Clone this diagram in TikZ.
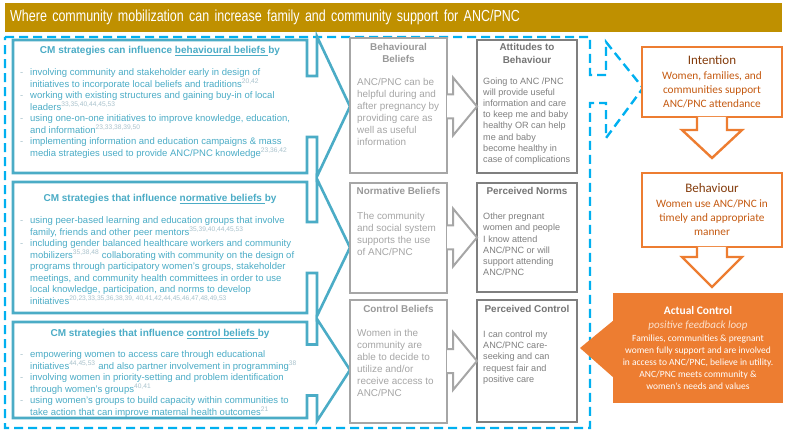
\documentclass[tikz,border=0pt]{standalone}
\usepackage{fontspec}
\setmainfont{Liberation Sans}
\newfontfamily\hdfont[FakeStretch=0.78]{Liberation Sans}
\newfontfamily\calfont{Carlito}
\usetikzlibrary{positioning}

\definecolor{hdgold}{HTML}{BF9000}
\definecolor{dashblue}{HTML}{00B0F0}
\definecolor{cmteal}{HTML}{4BACC6}
\definecolor{refgray}{HTML}{A9C2CC}
\definecolor{beliefgray}{HTML}{A6A6A6}
\definecolor{attgray}{HTML}{7F7F7F}
\definecolor{tpborange}{HTML}{ED7D31}
\definecolor{tpbtext}{HTML}{C55A11}
\definecolor{tpbdark}{HTML}{843C0C}
\definecolor{tpbpeach}{HTML}{FBE0CC}

\newcommand{\bl}{\makebox[10pt][l]{\color{refgray}-}}
\newcommand{\ind}{\hspace*{10pt}}
\newcommand{\refs}[1]{\textsuperscript{\color{refgray}#1}}
\newcommand{\tpbhead}{\fontsize{13}{14}\selectfont\color{tpbdark}}
\newcommand{\cmcallout}[3]{%
  \draw[cmline] (#1.north west) -- (#1.north east) -- ([yshift=#3]#1.east)
    -- ([xshift=10pt,yshift=#3]#1.east) -- ([xshift=10pt,yshift=#2]#1.east)
    -- ([xshift=43pt]#1.east) -- ([xshift=10pt,yshift=-#2]#1.east)
    -- ([xshift=10pt,yshift=-#3]#1.east) -- ([yshift=-#3]#1.east)
    -- (#1.south east) -- (#1.south west) -- cycle;}
\newcommand{\grayarrow}[1]{%
  \draw[grayarr] ([shift={(-30,12)}]#1.west) -- ++(6,0) -- ++(0,17) -- (#1.west)
    -- ++(-24,-29) -- ++(0,17) -- ++(-6,0);}

\begin{document}
\begin{tikzpicture}[x=1pt, y=1pt,
    headbar/.style={fill=hdgold, text=white, font=\hdfont\fontsize{16}{20}\selectfont,
      inner xsep=5pt, inner ysep=0pt, minimum height=29pt, text width=767pt,
      align=left, anchor=north west},
    cmdash/.style={draw=dashblue, line width=2.4pt, dash pattern=on 9pt off 5pt},
    cmline/.style={draw=cmteal, line width=2.6pt, fill=white},
    stratframe/.style={inner sep=0pt, outer sep=0pt, anchor=north west},
    strattitle/.style={text=cmteal, font=\bfseries\fontsize{10}{12}\selectfont,
      inner sep=0pt, anchor=north},
    stratlist/.style={text=cmteal, font=\fontsize{9.5}{11.5}\selectfont,
      inner sep=0pt, align=left, anchor=north west},
    beliefbox/.style={draw=beliefgray, line width=2.2pt, fill=white,
      inner sep=0pt, outer sep=0pt, anchor=north west},
    belieftitle/.style={text=beliefgray!92!black, font=\bfseries\fontsize{9.9}{11.5}\selectfont,
      inner sep=0pt, align=center, anchor=north},
    belieflist/.style={text=beliefgray, font=\fontsize{9.9}{12}\selectfont,
      inner sep=0pt, align=left, anchor=north west},
    attbox/.style={beliefbox, draw=attgray},
    atttitle/.style={belieftitle, text=attgray!92!black, font=\bfseries\fontsize{9.9}{12.3}\selectfont},
    attlist/.style={belieflist, text=attgray, font=\fontsize{9.1}{11.2}\selectfont},
    grayarr/.style={draw=beliefgray, line width=2pt, fill=white},
    tpbbox/.style={draw=tpborange, line width=2.4pt, fill=white, inner sep=0pt,
      outer sep=0pt, align=center, text=tpbtext, font=\calfont\fontsize{11.3}{14}\selectfont},
    acbox/.style={fill=tpborange, inner sep=0pt, outer sep=0pt, align=center,
      text=white, font=\calfont\fontsize{9.5}{12}\selectfont},
    tpbarr/.style={draw=tpborange, line width=2.4pt, fill=white}
  ]
  \useasboundingbox (0,0) rectangle (786,-435);

  \node[headbar] (head) at (5,-3) {Where community mobilization can increase family and community support for ANC/PNC};

  \draw[cmdash] (5,-37) -- (590,-37) -- (590,-75) -- (606,-75) -- (606,-42) -- (643,-88)
    -- (606,-138) -- (606,-103) -- (590,-103) -- (590,-428) -- (5,-428) -- cycle;

  \node[stratframe, minimum width=294pt, minimum height=133pt] (s1) at (13,-40) {};
  \node[stratframe, minimum width=294pt, minimum height=131pt] (s2) at (13,-182) {};
  \node[stratframe, minimum width=294pt, minimum height=96pt] (s3) at (13,-322) {};
  \cmcallout{s1}{70pt}{30.5pt}
  \cmcallout{s2}{68.5pt}{25.5pt}
  \cmcallout{s3}{51pt}{25.5pt}

  \node[strattitle] (t1) at (160,-46.5) {CM strategies can influence \underline{behavioural beliefs }by};
  \node[stratlist] (l1) at (20,-68.5) {%
    \bl involving community and stakeholder early in design of\\
    \ind initiatives to incorporate local beliefs and traditions\refs{20,42}\\
    \bl working with existing structures and gaining buy-in of local\\
    \ind leaders\refs{33,35,40,44,45,53}\\
    \bl using one-on-one initiatives to improve knowledge, education,\\
    \ind and information\refs{23,33,38,39,50}\\
    \bl implementing information and education campaigns \& mass\\
    \ind media strategies used to provide ANC/PNC knowledge\refs{23,36,42}};

  \node[strattitle] (t2) at (160,-194.3) {CM strategies that influence \underline{normative beliefs }by};
  \node[stratlist] (l2) at (20,-216.5) {%
    \bl using peer-based learning and education groups that involve\\
    \ind family, friends and other peer mentors\refs{35,39,40,44,45,53}\\
    \bl including gender balanced healthcare workers and community\\
    \ind mobilizers\refs{35,38,48} collaborating with community on the design of\\
    \ind programs through participatory women's groups, stakeholder\\
    \ind meetings, and community health committees in order to use\\
    \ind local knowledge, participation, and norms to develop\\
    \ind initiatives\refs{20,23,33,35,36,38,39, 40,41,42,44,45,46,47,48,49,53}};

  \node[strattitle] (t3) at (160,-329.3) {CM strategies that influence \underline{control beliefs }by};
  \node[stratlist] (l3) at (20,-350.5) {%
    \bl empowering women to access care through educational\\
    \ind initiatives\refs{44,45,53} and also partner involvement in programming\refs{38}\\
    \bl involving women in priority-setting and problem identification\\
    \ind through women's groups\refs{40,41}\\
    \bl using women's groups to build capacity within communities to\\
    \ind take action that can improve maternal health outcomes\refs{21}};

  \node[beliefbox, minimum width=97pt, minimum height=135pt] (bb) at (350,-38) {};
  \node[beliefbox, minimum width=97pt, minimum height=110pt] (nb) at (350,-183) {};
  \node[beliefbox, minimum width=97pt, minimum height=123pt] (cb) at (350,-300) {};
  \node[attbox, minimum width=100pt, minimum height=133pt] (ab) at (477,-40) {};
  \node[attbox, minimum width=100pt, minimum height=109pt] (pn) at (477,-183) {};
  \node[attbox, minimum width=100pt, minimum height=122pt] (pc) at (477,-300) {};

  \grayarrow{ab}
  \grayarrow{pn}
  \grayarrow{pc}

  \node[belieftitle] at (398.5,-43.3) {Behavioural\\Beliefs};
  \node[belieflist] at (357,-78.5) {ANC/PNC can be\\helpful during and\\after pregnancy by\\providing care as\\well as useful\\information};
  \node[belieftitle] at (398.5,-187.3) {Normative Beliefs};
  \node[belieflist] at (357,-212.5) {The community\\and social system\\supports the use\\of ANC/PNC};
  \node[belieftitle] at (398.5,-305.3) {Control Beliefs};
  \node[belieflist] at (357,-329.5) {Women in the\\community are\\able to decide to\\utilize and/or\\receive access to\\ANC/PNC};

  \node[atttitle] at (527,-43.6) {Attitudes to\\Behaviour};
  \node[attlist] at (483,-77.4) {Going to ANC /PNC\\will provide useful\\information and care\\to keep me and baby\\healthy OR can help\\me and baby\\become healthy in\\case of complications};
  \node[atttitle] at (527,-187.6) {Perceived Norms};
  \node[attlist] at (483,-213) {Other pregnant\\women and people\\I know attend\\ANC/PNC or will\\support attending\\ANC/PNC};
  \node[atttitle] at (527,-305.3) {Perceived Control};
  \node[attlist] at (483,-330.7) {I can control my\\ANC/PNC care-\\seeking and can\\request fair and\\positive care};

  \node[tpbbox, minimum width=140pt, minimum height=70pt] (int) at (712,-82)
    {{\tpbhead Intention}\\[1pt]Women, families, and\\communities support\\ANC/PNC attendance};
  \node[tpbbox, minimum width=140pt, minimum height=74pt] (behv) at (712,-210)
    {{\tpbhead Behaviour}\\[1pt]Women use ANC/PNC in\\timely and appropriate\\manner};
  \node[acbox, minimum width=170pt, minimum height=110pt] (ac) at (698,-348)
    {{\bfseries\fontsize{11.5}{13}\selectfont Actual Control}\\[2pt]
     {\itshape\fontsize{11}{13}\selectfont\color{tpbpeach}positive feedback loop}\\[1pt]
     Families, communities \& pregnant\\women fully support and are involved\\
     in access to ANC/PNC, believe in utility.\\ANC/PNC meets community \&\\
     women's needs and values};

  \draw[tpbarr] ([xshift=-15pt]int.south) -- ++(0,-13) -- ++(-15,0) -- ([yshift=-41pt]int.south)
    -- ++(30,28) -- ++(-15,0) -- ([xshift=15pt]int.south);
  \draw[tpbarr] ([xshift=-15pt]behv.south) -- ++(0,-10) -- ++(-15,0) -- ([yshift=-40pt]behv.south)
    -- ++(30,30) -- ++(-15,0) -- ([xshift=15pt]behv.south);
  \fill[tpborange] ([shift={(1,28)}]ac.west) -- ([xshift=-33pt]ac.west) -- ([shift={(1,-30)}]ac.west) -- cycle;
\end{tikzpicture}
\end{document}
